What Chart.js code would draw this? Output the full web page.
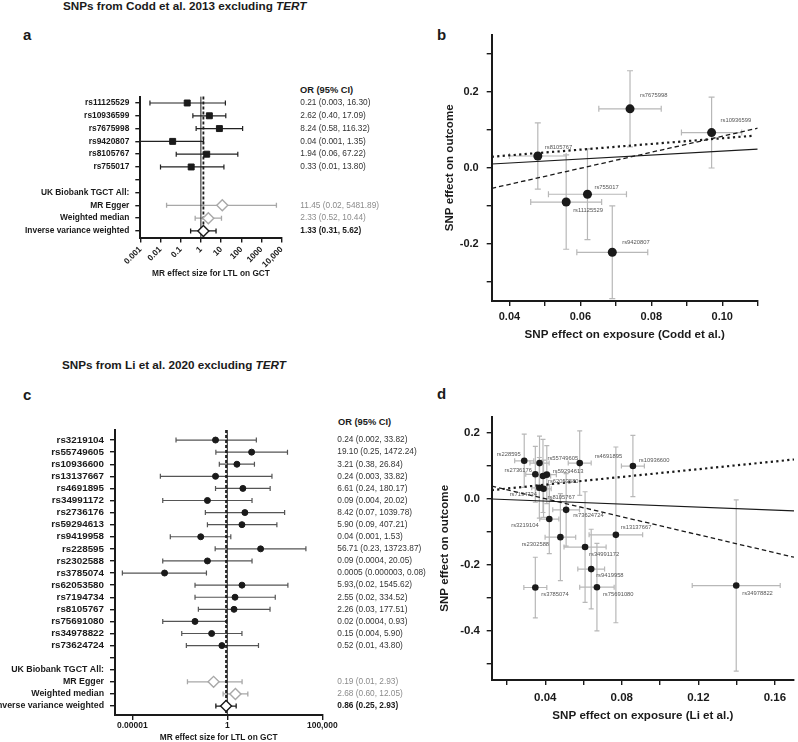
<!DOCTYPE html>
<html>
<head>
<meta charset="utf-8">
<title>LTL MR on GCT</title>
<script src="https://cdn.jsdelivr.net/npm/chart.js@4.4.1/dist/chart.umd.min.js"></script>
<style>
  html, body { margin: 0; padding: 0; background: #fff; }
  body { position: relative; width: 798px; height: 742px; overflow: hidden; font-family: 'Liberation Sans', Arial, sans-serif; color: #1a1a1a; }
  canvas { position: absolute; }
  .lbl { position: absolute; white-space: nowrap; font-weight: bold; line-height: 1; }
  .title { font-size: 11.7px; }
  .panel { font-size: 15px; }
  .hdr { font-size: 9.3px; }
</style>
</head>
<body>
<div class="lbl title" style="left:63px; top:0px">SNPs from Codd et al. 2013 excluding <i>TERT</i></div>
<div class="lbl panel" style="left:23px; top:27px">a</div>
<div class="lbl panel" style="left:437px; top:27px">b</div>
<div class="lbl hdr" style="left:300px; top:86px">OR (95% CI)</div>
<div class="lbl title" style="left:62px; top:358.6px">SNPs from Li et al. 2020 excluding <i>TERT</i></div>
<div class="lbl panel" style="left:23px; top:386.5px">c</div>
<div class="lbl panel" style="left:437px; top:386px">d</div>
<div class="lbl hdr" style="left:338px; top:418px">OR (95% CI)</div>

<canvas id="forestA" width="400" height="210" style="left:0;top:80px"></canvas>
<canvas id="scatterB" width="398" height="330" style="left:400px;top:20px"></canvas>
<canvas id="forestC" width="440" height="340" style="left:0;top:410px"></canvas>
<canvas id="scatterD" width="398" height="350" style="left:400px;top:400px"></canvas>

<script>
// ---- panel a: Codd et al. 2013 SNPs, forest plot ----
var aRows = ['rs11125529', 'rs10936599', 'rs7675998', 'rs9420807', 'rs8105767', 'rs755017', '',
  'UK Biobank TGCT All:', 'MR Egger', 'Weighted median', 'Inverse variance weighted'];
var aOrText = ['0.21 (0.003, 16.30)', '2.62 (0.40, 17.09)', '8.24 (0.58, 116.32)', '0.04 (0.001, 1.35)',
  '1.94 (0.06, 67.22)', '0.33 (0.01, 13.80)', '', '', '11.45 (0.02, 5481.89)', '2.33 (0.52, 10.44)', '1.33 (0.31, 5.62)'];
var aSnpOr = [0.21, 2.62, 8.24, 0.04, 1.94, 0.33];
var aSnpLo = [0.003, 0.40, 0.58, 0.001, 0.06, 0.01];
var aSnpHi = [16.30, 17.09, 116.32, 1.35, 67.22, 13.80];
var aMethodOr = [11.45, 2.33, 1.33];
var aMethodLo = [0.02, 0.52, 0.31];
var aMethodHi = [5481.89, 10.44, 5.62];
var aTicks = [0.001, 0.01, 0.1, 1, 10, 100, 1000, 10000];
var aTickLabels = ['0.001', '0.01', '0.1', '1', '10', '100', '1000', '10,000'];

// ---- panel b: Codd et al. SNP effects ----
var bSnps = ['rs7675998', 'rs10936599', 'rs8105767', 'rs755017', 'rs11125529', 'rs9420807'];
var bExp = [0.074, 0.097, 0.048, 0.062, 0.056, 0.069];
var bExpSe = [0.0088, 0.0085, 0.008, 0.011, 0.010, 0.010];
var bOut = [0.155, 0.0925, 0.031, -0.0695, -0.090, -0.222];
var bOutSe = [0.100, 0.093, 0.087, 0.119, 0.124, 0.122];
var bIvwLine = [[0.035, 0.010], [0.11, 0.049]];
var bEggerLine = [[0.035, -0.054], [0.11, 0.104]];
var bMedianLine = [[0.035, 0.029], [0.1085, 0.084]];
var bXTicks = [0.04, 0.05, 0.06, 0.07, 0.08, 0.09, 0.10, 0.11];
var bXTickLabels = ['0.04', '', '0.06', '', '0.08', '', '0.10', ''];
var bYTicks = [-0.3, -0.2, -0.1, 0, 0.1, 0.2, 0.3];
var bYTickLabels = ['', '-0.2', '', '0.0', '', '0.2', ''];

// ---- panel c: Li et al. 2020 SNPs, forest plot ----
var cRows = ['rs3219104', 'rs55749605', 'rs10936600', 'rs13137667', 'rs4691895', 'rs34991172', 'rs2736176',
  'rs59294613', 'rs9419958', 'rs228595', 'rs2302588', 'rs3785074', 'rs62053580', 'rs7194734', 'rs8105767',
  'rs75691080', 'rs34978822', 'rs73624724', '', 'UK Biobank TGCT All:', 'MR Egger', 'Weighted median',
  'Inverse variance weighted'];
var cOrText = ['0.24 (0.002, 33.82)', '19.10 (0.25, 1472.24)', '3.21 (0.38, 26.84)', '0.24 (0.003, 33.82)',
  '6.61 (0.24, 180.17)', '0.09 (0.004, 20.02)', '8.42 (0.07, 1039.78)', '5.90 (0.09, 407.21)',
  '0.04 (0.001, 1.53)', '56.71 (0.23, 13723.87)', '0.09 (0.0004, 20.05)', '0.0005 (0.000003, 0.08)',
  '5.93,(0.02, 1545.62)', '2.55 (0.02, 334.52)', '2.26 (0.03, 177.51)', '0.02 (0.0004, 0.93)',
  '0.15 (0.004, 5.90)', '0.52 (0.01, 43.80)', '', '', '0.19 (0.01, 2.93)', '2.68 (0.60, 12.05)',
  '0.86 (0.25, 2.93)'];
var cSnpOr = [0.24, 19.10, 3.21, 0.24, 6.61, 0.09, 8.42, 5.90, 0.04, 56.71, 0.09, 0.0005, 5.93, 2.55, 2.26, 0.02, 0.15, 0.52];
var cSnpLo = [0.002, 0.25, 0.38, 0.0003, 0.24, 0.0004, 0.07, 0.09, 0.001, 0.23, 0.0004, 0.000003, 0.02, 0.02, 0.03, 0.0004, 0.004, 0.007];
var cSnpHi = [33.82, 1472.24, 26.84, 224, 180.17, 20.02, 1039.78, 407.21, 1.53, 13723.87, 20.05, 0.08, 1545.62, 334.52, 177.51, 0.93, 5.90, 43.80];
var cMethodOr = [0.19, 2.68, 0.86];
var cMethodLo = [0.008, 0.60, 0.25];
var cMethodHi = [6.0, 12.05, 2.93];
var cTicks = [0.00001, 1, 100000];
var cTickLabels = ['0.00001', '1', '100,000'];

// ---- panel d: Li et al. SNP effects ----
var dSnps = ['rs228595', 'rs55749605', 'rs4691895', 'rs10936600', 'rs2736176', 'rs59294613', 'rs62053580',
  'rs7194734', 'rs8105767', 'rs73624724', 'rs3219104', 'rs2302588', 'rs13137667', 'rs34991172', 'rs9419958',
  'rs3785074', 'rs75691080', 'rs34978822'];
var dExp = [0.029, 0.037, 0.058, 0.0858, 0.0348, 0.0408, 0.0388, 0.0369, 0.0391, 0.0509, 0.0421, 0.0479, 0.0769, 0.0608, 0.064, 0.0348, 0.067, 0.1398];
var dExpSe = [0.005, 0.005, 0.006, 0.006, 0.005, 0.005, 0.004, 0.004, 0.004, 0.007, 0.005, 0.008, 0.014, 0.011, 0.007, 0.006, 0.009, 0.023];
var dOut = [0.116, 0.109, 0.109, 0.100, 0.075, 0.074, 0.070, 0.034, 0.031, -0.033, -0.061, -0.116, -0.109, -0.146, -0.213, -0.269, -0.268, -0.263];
var dOutSe = [0.081, 0.082, 0.098, 0.093, 0.085, 0.088, 0.111, 0.092, 0.087, 0.110, 0.105, 0.132, 0.267, 0.168, 0.121, 0.092, 0.133, 0.260];
var dIvwLine = [[0.012, 0.0], [0.17, -0.036]];
var dEggerLine = [[0.012, 0.039], [0.17, -0.177]];
var dMedianLine = [[0.012, 0.027], [0.17, 0.12]];
var dXTicks = [0.02, 0.04, 0.06, 0.08, 0.10, 0.12, 0.14, 0.16];
var dXTickLabels = ['', '0.04', '', '0.08', '', '0.12', '', '0.16'];
var dYTicks = [-0.5, -0.4, -0.3, -0.2, -0.1, 0, 0.1, 0.2];
var dYTickLabels = ['', '-0.4', '', '-0.2', '', '0.0', '', '0.2'];

// label nudges (px) for the SNP names next to each point
var bLabelNudge = [[10, -13], [9, -12], [7, -9], [7, -7], [7, 8], [10, -10]];
var dLabelNudge = [[-27.6, -6], [8, -5], [15, -7], [6, -6], [-30.7, -4], [6, -3], [5, 5], [-29.7, 6.6], [4, 8.6],
  [7, 6], [-38, 6], [-38.7, 7], [5, -7], [4, 7], [5, 6], [6, 7], [6, 7], [6, 8]];

var FONT = "'Liberation Sans', Arial, sans-serif";
var INK = '#1a1a1a';
var GREY = '#a8a8a8';

Chart.defaults.font.family = FONT;
Chart.defaults.color = INK;
Chart.defaults.animation = false;
Chart.defaults.plugins.legend.display = false;
Chart.defaults.plugins.tooltip.enabled = false;

var tickGrid = { drawOnChartArea: false, drawTicks: true, tickLength: 5, color: INK, lineWidth: 1.4 };
var axisBorder = { display: true, color: INK, width: 2 };

// whiskers with caps, drawn under the markers
Chart.register({
  id: 'errorBars',
  beforeDatasetsDraw: function (chart) {
    var ctx = chart.ctx;
    chart.data.datasets.forEach(function (ds, i) {
      var e = ds.errorBars;
      if (!e) return;
      var meta = chart.getDatasetMeta(i);
      var xs = chart.scales[meta.xAxisID], ys = chart.scales[meta.yAxisID];
      ctx.save();
      ctx.strokeStyle = e.color;
      ctx.lineWidth = e.width;
      ds.data.forEach(function (p, j) {
        var px = xs.getPixelForValue(p.x), py = ys.getPixelForValue(p.y);
        ctx.beginPath();
        if (e.xLo) {
          var a = xs.getPixelForValue(e.xLo[j]), b = xs.getPixelForValue(e.xHi[j]);
          ctx.moveTo(a, py); ctx.lineTo(b, py);
          ctx.moveTo(a, py - e.cap); ctx.lineTo(a, py + e.cap);
          ctx.moveTo(b, py - e.cap); ctx.lineTo(b, py + e.cap);
        }
        if (e.yLo) {
          var c = ys.getPixelForValue(e.yLo[j]), d = ys.getPixelForValue(e.yHi[j]);
          ctx.moveTo(px, c); ctx.lineTo(px, d);
          ctx.moveTo(px - e.cap, c); ctx.lineTo(px + e.cap, c);
          ctx.moveTo(px - e.cap, d); ctx.lineTo(px + e.cap, d);
        }
        ctx.stroke();
      });
      ctx.restore();
    });
  }
});

function forestChart(id, p) {
  var n = p.rows.length;
  var nSnp = p.snpOr.length;
  var mRows = [n - 3, n - 2, n - 1];
  var mColor = [GREY, GREY, INK];
  var rowTicks = function (s) { s.ticks = p.rows.map(function (r, i) { return { value: i }; }); };

  var datasets = [{
    data: p.snpOr.map(function (v, i) { return { x: v, y: i }; }),
    pointStyle: p.marker, pointRadius: p.markerR, backgroundColor: INK, borderColor: INK, borderWidth: 1,
    errorBars: { xLo: p.snpLo, xHi: p.snpHi, color: p.lineColor, width: 1.2, cap: 2.5 }
  }];
  p.methodOr.forEach(function (v, k) {
    datasets.push({
      data: [{ x: v, y: mRows[k] }],
      pointStyle: 'rectRot', pointRadius: 5.5, backgroundColor: '#fff', borderColor: mColor[k], borderWidth: 1.4,
      errorBars: { xLo: [p.methodLo[k]], xHi: [p.methodHi[k]], color: mColor[k], width: 1.3, cap: 2.5 }
    });
  });

  var nullLines = {
    id: 'nullLines',
    beforeDatasetsDraw: function (chart) {
      var ctx = chart.ctx, ca = chart.chartArea, x = chart.scales.x;
      [[1, [], 1], [p.methodOr[2], [3, 2], 1.8]].forEach(function (l) {
        var px = x.getPixelForValue(l[0]);
        ctx.save();
        ctx.strokeStyle = INK; ctx.lineWidth = l[2]; ctx.setLineDash(l[1]);
        ctx.beginPath(); ctx.moveTo(px, ca.top); ctx.lineTo(px, ca.bottom); ctx.stroke();
        ctx.restore();
      });
    }
  };

  return new Chart(document.getElementById(id), {
    type: 'scatter',
    data: { datasets: datasets },
    options: {
      responsive: false,
      layout: { padding: { top: p.padTop, right: 0, bottom: 0, left: 0 } },
      scales: {
        x: {
          type: 'logarithmic', min: p.xMin, max: p.xMax,
          afterBuildTicks: function (s) { s.ticks = p.xTicks.map(function (v) { return { value: v }; }); },
          afterFit: function (s) { s.height = p.xAxisH; },
          border: axisBorder, grid: tickGrid,
          ticks: {
            autoSkip: false, minRotation: p.rot, maxRotation: p.rot, padding: p.xTickPad, color: INK,
            font: { size: p.xTickSize, weight: 'bold' },
            callback: function (v, i) { return p.xTickLabels[i]; }
          },
          title: {
            display: true, text: 'MR effect size for LTL on GCT', color: INK,
            font: { size: 8.3, weight: 'bold' }, padding: { top: 0, bottom: p.xTitlePad }
          }
        },
        y: {
          type: 'linear', reverse: true, min: p.yMin, max: p.yMax,
          afterBuildTicks: rowTicks,
          afterFit: function (s) { s.width = p.yAxisW; },
          border: axisBorder, grid: tickGrid,
          ticks: {
            autoSkip: false, padding: 6, color: INK,
            font: function (c) { return { size: c.index < nSnp ? p.snpLabelSize : p.methodLabelSize, weight: 'bold' }; },
            callback: function (v, i) { return p.rows[i]; }
          }
        },
        y2: {
          type: 'linear', position: 'right', reverse: true, min: p.yMin, max: p.yMax,
          afterBuildTicks: rowTicks,
          afterFit: function (s) { s.width = p.y2W; },
          border: { display: false }, grid: { display: false },
          ticks: {
            autoSkip: false, padding: p.orPad,
            color: function (c) { return c.index === n - 1 ? INK : (c.index >= n - 3 ? '#8c8c8c' : '#333'); },
            font: function (c) { return { size: 8.3, weight: c.index === n - 1 ? 'bold' : 'normal' }; },
            callback: function (v, i) { return p.orText[i]; }
          }
        }
      }
    },
    plugins: [nullLines]
  });
}

function fitLine(pairs, dash, w) {
  return {
    data: pairs.map(function (q) { return { x: q[0], y: q[1] }; }),
    showLine: true, pointRadius: 0, borderColor: INK, borderWidth: w, borderDash: dash,
    borderCapStyle: 'butt', fill: false
  };
}

function scatterChart(id, p) {
  var datasets = [
    {
      data: p.exp.map(function (v, i) { return { x: v, y: p.out[i] }; }),
      pointRadius: p.r, backgroundColor: INK, borderColor: INK, borderWidth: 0,
      errorBars: {
        xLo: p.exp.map(function (v, i) { return v - p.expSe[i]; }),
        xHi: p.exp.map(function (v, i) { return v + p.expSe[i]; }),
        yLo: p.out.map(function (v, i) { return v - p.outSe[i]; }),
        yHi: p.out.map(function (v, i) { return v + p.outSe[i]; }),
        color: '#b8b8b8', width: 1.2, cap: p.cap
      }
    },
    fitLine(p.medianLine, [2.2, 3.3], 2.2),
    fitLine(p.eggerLine, [4.5, 3], 1.3),
    fitLine(p.ivwLine, [], 1.2)
  ];

  var snpLabels = {
    id: 'snpLabels',
    afterDatasetsDraw: function (chart) {
      var ctx = chart.ctx;
      var meta = chart.getDatasetMeta(0);
      ctx.save();
      ctx.font = '5.8px ' + FONT;
      ctx.fillStyle = '#555';
      ctx.textBaseline = 'middle';
      ctx.textAlign = 'left';
      meta.data.forEach(function (el, i) {
        ctx.fillText(p.snps[i], el.x + p.nudge[i][0], el.y + p.nudge[i][1]);
      });
      ctx.restore();
    }
  };

  return new Chart(document.getElementById(id), {
    type: 'scatter',
    data: { datasets: datasets },
    options: {
      responsive: false,
      layout: { padding: { top: p.padTop, right: p.padRight, bottom: 0, left: 0 } },
      scales: {
        x: {
          type: 'linear', min: p.xMin, max: p.xMax,
          afterBuildTicks: function (s) { s.ticks = p.xTicks.map(function (v) { return { value: v }; }); },
          afterFit: function (s) { s.height = p.xAxisH; },
          border: axisBorder, grid: tickGrid,
          ticks: {
            autoSkip: false, maxRotation: 0, padding: p.xTickPad, color: INK,
            font: { size: p.tickSize, weight: 'bold' },
            callback: function (v, i) { return p.xTickLabels[i]; }
          },
          title: {
            display: true, text: p.xTitle, color: INK,
            font: { size: 11.6, weight: 'bold' }, padding: { top: 0, bottom: p.xTitlePad }
          }
        },
        y: {
          type: 'linear', min: p.yMin, max: p.yMax,
          afterBuildTicks: function (s) { s.ticks = p.yTicks.map(function (v) { return { value: v }; }); },
          afterFit: function (s) { s.width = 91.7; },
          border: axisBorder, grid: tickGrid,
          ticks: {
            autoSkip: false, padding: p.yTickPad, color: INK,
            font: { size: p.tickSize, weight: 'bold' },
            callback: function (v, i) { return p.yTickLabels[i]; }
          },
          title: {
            display: true, text: 'SNP effect on outcome', color: INK,
            font: { size: 11.6, weight: 'bold' }, padding: { top: p.yTitlePad, bottom: 0 }
          }
        }
      }
    },
    plugins: [snpLabels]
  });
}

forestChart('forestA', {
  rows: aRows, orText: aOrText, snpOr: aSnpOr, snpLo: aSnpLo, snpHi: aSnpHi,
  methodOr: aMethodOr, methodLo: aMethodLo, methodHi: aMethodHi,
  xTicks: aTicks, xTickLabels: aTickLabels, xMin: 0.001, xMax: 10000,
  marker: 'rect', markerR: 4.2, lineColor: '#222',
  padTop: 16.6, xAxisH: 52.4, yAxisW: 140.3, y2W: 118.3, orPad: 10.6,
  rot: 45, xTickPad: 2, xTickSize: 8.3, xTitlePad: 11,
  yMin: -0.5, yMax: 10.52, snpLabelSize: 8.4, methodLabelSize: 8.4
});

scatterChart('scatterB', {
  snps: bSnps, exp: bExp, expSe: bExpSe, out: bOut, outSe: bOutSe, nudge: bLabelNudge,
  ivwLine: bIvwLine, eggerLine: bEggerLine, medianLine: bMedianLine,
  xTicks: bXTicks, xTickLabels: bXTickLabels, yTicks: bYTicks, yTickLabels: bYTickLabels,
  xMin: 0.035, xMax: 0.11, yMin: -0.35, yMax: 0.35,
  xTitle: 'SNP effect on exposure (Codd et al.)',
  r: 4.5, cap: 3, padTop: 14.3, padRight: 40.3, xAxisH: 49,
  tickSize: 11, xTickPad: 4.1, xTitlePad: 8, yTitlePad: 43, yTickPad: 8
});

forestChart('forestC', {
  rows: cRows, orText: cOrText, snpOr: cSnpOr, snpLo: cSnpLo, snpHi: cSnpHi,
  methodOr: cMethodOr, methodLo: cMethodLo, methodHi: cMethodHi,
  xTicks: cTicks, xTickLabels: cTickLabels, xMin: 1.23e-6, xMax: 100000,
  marker: 'circle', markerR: 3, lineColor: '#555',
  padTop: 20, xAxisH: 35, yAxisW: 115, y2W: 117.7, orPad: 7,
  rot: 0, xTickPad: 1, xTickSize: 8.5, xTitlePad: 7,
  yMin: -0.83, yMax: 22.74, snpLabelSize: 9.8, methodLabelSize: 8.8
});

scatterChart('scatterD', {
  snps: dSnps, exp: dExp, expSe: dExpSe, out: dOut, outSe: dOutSe, nudge: dLabelNudge,
  ivwLine: dIvwLine, eggerLine: dEggerLine, medianLine: dMedianLine,
  xTicks: dXTicks, xTickLabels: dXTickLabels, yTicks: dYTicks, yTickLabels: dYTickLabels,
  xMin: 0.012, xMax: 0.17, yMin: -0.55, yMax: 0.25,
  xTitle: 'SNP effect on exposure (Li et al.)',
  r: 3.3, cap: 2.5, padTop: 16.7, padRight: 1.3, xAxisH: 70,
  tickSize: 11.5, xTickPad: 5.8, xTitlePad: 27.3, yTitlePad: 37.5, yTickPad: 6.7
});
</script>
</body>
</html>
